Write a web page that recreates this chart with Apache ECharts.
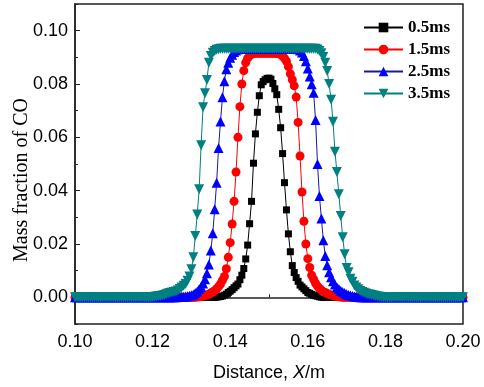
<!DOCTYPE html>
<html>
<head>
<meta charset="utf-8">
<script src="https://cdn.jsdelivr.net/npm/echarts@6/dist/echarts.min.js"></script>
<style>
  html, body { margin: 0; padding: 0; background: #fff; }
  #main { width: 484px; height: 387px; }
</style>
</head>
<body>
<div id="main"></div>
<script>
// sampling grid of the profiles (m)
const xStart = 0.1
const xStep = 0.0005

const seriesNames = ['0.5ms', '1.5ms', '2.5ms', '3.5ms']

// CO mass fraction at each grid point, 0.100 -> 0.200 m
const co05 = [
  0,0,0,0,0,0,0,0,0,0,
  0,0,0,0,0,0,0,0,0,0,
  0,0,0,0,0,0,0,0,0,0,
  0,0,0,0,0,0,0,0,0,0,
  0,0,0,0,0,0,0,0,0,0,
  0,0,0,0,0,0,0,0,0,0,
  0,0,0,0,0,0,0,0,0,0,
  0,0,0,0.0001,0.0002,0.0003,0.0005,0.0008,0.0012,0.0018,
  0.0023,0.0029,0.0036,0.0043,0.0050,0.0066,0.0083,0.0108,0.0144,0.0196,
  0.0276,0.0360,0.0503,0.0613,0.0694,0.0756,0.0797,0.0809,0.0816,0.0821,
  0.0822,0.0818,0.0802,0.0782,0.0760,0.0705,0.0636,0.0539,0.0430,0.0328,
  0.0238,0.0171,0.0119,0.0093,0.0074,0.0060,0.0046,0.0039,0.0032,0.0025,
  0.0018,0.0015,0.0011,0.0008,0.0006,0.0004,0.0002,0.0001,0,0,
  0,0,0,0,0,0,0,0,0,0,
  0,0,0,0,0,0,0,0,0,0,
  0,0,0,0,0,0,0,0,0,0,
  0,0,0,0,0,0,0,0,0,0,
  0,0,0,0,0,0,0,0,0,0,
  0,0,0,0,0,0,0,0,0,0,
  0,0,0,0,0,0,0,0,0,0,
  0
]
const co15 = [
  0,0,0,0,0,0,0,0,0,0,
  0,0,0,0,0,0,0,0,0,0,
  0,0,0,0,0,0,0,0,0,0,
  0,0,0,0,0,0,0,0,0,0,
  0,0,0,0,0,0,0,0,0,0,
  0,0,0,0,0,0,0,0,0,0,
  0,0,0,0.0001,0.0002,0.0003,0.0005,0.0007,0.0009,0.0012,
  0.0016,0.0020,0.0025,0.0032,0.0040,0.0050,0.0064,0.0078,0.0107,0.0150,
  0.0205,0.0275,0.0360,0.0470,0.0600,0.0715,0.0800,0.0850,0.0880,0.0897,
  0.0906,0.0911,0.0914,0.0915,0.0915,0.0915,0.0915,0.0915,0.0915,0.0915,
  0.0915,0.0915,0.0915,0.0915,0.0914,0.0913,0.0910,0.0905,0.0897,0.0885,
  0.0865,0.0838,0.0816,0.0793,0.0751,0.0656,0.0530,0.0395,0.0285,0.0200,
  0.0145,0.0112,0.0083,0.0068,0.0053,0.0042,0.0033,0.0027,0.0021,0.0018,
  0.0014,0.0011,0.0009,0.0007,0.0005,0.0003,0.0002,0.0001,0,0,
  0,0,0,0,0,0,0,0,0,0,
  0,0,0,0,0,0,0,0,0,0,
  0,0,0,0,0,0,0,0,0,0,
  0,0,0,0,0,0,0,0,0,0,
  0,0,0,0,0,0,0,0,0,0,
  0,0,0,0,0,0,0,0,0,0,
  0
]
const co25 = [
  0,0,0,0,0,0,0,0,0,0,
  0,0,0,0,0,0,0,0,0,0,
  0,0,0,0,0,0,0,0,0,0,
  0,0,0,0,0,0,0,0,0,0,
  0,0,0,0,0,0,0,0,0,0,
  0,0,0,0.0001,0.0001,0.0002,0.0002,0.0003,0.0004,0.0006,
  0.0008,0.0011,0.0016,0.0022,0.0031,0.0040,0.0052,0.0068,0.0090,0.0123,
  0.0176,0.0240,0.0330,0.0430,0.0560,0.0659,0.0750,0.0810,0.0855,0.0880,
  0.0898,0.0910,0.0920,0.0926,0.0930,0.0932,0.0932,0.0932,0.0932,0.0932,
  0.0932,0.0932,0.0932,0.0932,0.0932,0.0932,0.0932,0.0932,0.0932,0.0932,
  0.0932,0.0932,0.0932,0.0932,0.0932,0.0932,0.0932,0.0932,0.0932,0.0932,
  0.0932,0.0932,0.0932,0.0932,0.0932,0.0930,0.0926,0.0918,0.0905,0.0885,
  0.0858,0.0828,0.0799,0.0767,0.0665,0.0500,0.0380,0.0296,0.0214,0.0155,
  0.0120,0.0094,0.0075,0.0060,0.0048,0.0038,0.0031,0.0025,0.0020,0.0016,
  0.0012,0.0009,0.0007,0.0005,0.0003,0.0002,0.0001,0,0,0,
  0,0,0,0,0,0,0,0,0,0,
  0,0,0,0,0,0,0,0,0,0,
  0,0,0,0,0,0,0,0,0,0,
  0,0,0,0,0,0,0,0,0,0,
  0,0,0,0,0,0,0,0,0,0,
  0
]
const co35 = [
  0,0,0,0,0,0,0,0,0,0,
  0,0,0,0,0,0,0,0,0,0,
  0,0,0,0,0,0,0,0,0,0,
  0,0,0,0,0,0,0,0,0,0,
  0.0001,0.0002,0.0003,0.0004,0.0005,0.0007,0.0009,0.0012,0.0014,0.0016,
  0.0018,0.0020,0.0022,0.0026,0.0031,0.0037,0.0043,0.0050,0.0062,0.0078,
  0.0105,0.0150,0.0230,0.0311,0.0405,0.0570,0.0713,0.0765,0.0815,0.0880,
  0.0905,0.0917,0.0924,0.0928,0.0930,0.0932,0.0932,0.0932,0.0932,0.0932,
  0.0932,0.0932,0.0932,0.0932,0.0932,0.0932,0.0932,0.0932,0.0932,0.0932,
  0.0932,0.0932,0.0932,0.0932,0.0932,0.0932,0.0932,0.0932,0.0932,0.0932,
  0.0932,0.0932,0.0932,0.0932,0.0932,0.0932,0.0932,0.0932,0.0932,0.0932,
  0.0932,0.0932,0.0932,0.0932,0.0932,0.0932,0.0932,0.0932,0.0932,0.0932,
  0.0932,0.0932,0.0932,0.0932,0.0932,0.0929,0.0924,0.0915,0.0901,0.0880,
  0.0849,0.0800,0.0741,0.0658,0.0546,0.0470,0.0387,0.0305,0.0225,0.0162,
  0.0110,0.0094,0.0070,0.0058,0.0044,0.0037,0.0030,0.0024,0.0020,0.0017,
  0.0014,0.0012,0.0011,0.0009,0.0007,0.0005,0.0003,0.0002,0.0001,0,
  0,0,0,0,0,0,0,0,0,0,
  0,0,0,0,0,0,0,0,0,0,
  0,0,0,0,0,0,0,0,0,0,
  0,0,0,0,0,0,0,0,0,0,
  0
]

const xTickLabels = ['0.10', '0.12', '0.14', '0.16', '0.18', '0.20']
const yTickLabels = ['0.00', '0.02', '0.04', '0.06', '0.08', '0.10']

const toPoints = (vals) => vals.map((v, i) => [+(xStart + i * xStep).toFixed(4), v])

const sans = '"Liberation Sans", Arial, sans-serif'
const serif = '"Liberation Serif", "Times New Roman", serif'

const styles = [
  { symbol: 'rect', size: 7, rotate: 0, color: '#000000', line: '#000000' },
  { symbol: 'circle', size: 9, rotate: 0, color: '#ff0000', line: '#ff0000' },
  { symbol: 'triangle', size: 10, rotate: 0, color: '#0000ff', line: '#1a1a9a' },
  { symbol: 'triangle', size: 10, rotate: 180, color: '#008080', line: '#008080' }
]
const allValues = [co05, co15, co25, co35]

const chart = echarts.init(document.getElementById('main'))

const option = {
  animation: false,
  backgroundColor: '#fff',
  grid: {
    left: 75,
    right: 21,
    top: 4,
    bottom: 61,
    show: true,
    borderColor: '#222',
    borderWidth: 1.5
  },
  legend: {
    orient: 'vertical',
    left: 358,
    top: 14,
    itemWidth: 39,
    itemHeight: 12,
    itemGap: 5,
    data: seriesNames,
    textStyle: {
      fontFamily: serif,
      fontWeight: 'bold',
      fontSize: 17,
      lineHeight: 17,
      color: '#000'
    }
  },
  xAxis: {
    type: 'value',
    min: 0.1,
    max: 0.2,
    interval: 0.02,
    name: 'Distance, {i|X}/m',
    nameLocation: 'middle',
    nameGap: 40,
    nameTextStyle: {
      fontFamily: sans,
      fontSize: 18,
      color: '#000',
      rich: {
        i: { fontFamily: sans, fontSize: 18, fontStyle: 'italic', color: '#000' }
      }
    },
    axisLine: { lineStyle: { color: '#222', width: 1.5 } },
    axisTick: { inside: true, length: 5, lineStyle: { color: '#222' } },
    minorTick: { show: true, splitNumber: 2, length: 3, lineStyle: { color: '#222' } },
    splitLine: { show: false },
    axisLabel: {
      margin: 9,
      fontFamily: sans,
      fontSize: 18,
      color: '#000',
      formatter: (v) => {
        const s = v.toFixed(2)
        return xTickLabels.includes(s) ? s : ''
      }
    }
  },
  yAxis: [
    {
      type: 'value',
      min: -0.01,
      max: 0.11,
      interval: 0.01,
      axisLine: { lineStyle: { color: '#222', width: 1.5 } },
      axisTick: { inside: true, length: 3, lineStyle: { color: '#222' } },
      splitLine: { show: false },
      axisLabel: {
        margin: 7,
        fontFamily: sans,
        fontSize: 18,
        color: '#000',
        formatter: (v) => {
          const s = (Math.abs(v) < 1e-9 ? 0 : v).toFixed(2)
          return yTickLabels.includes(s) ? s : ''
        }
      }
    },
    {
      type: 'value',
      position: 'left',
      min: -0.01,
      max: 0.11,
      interval: 0.01,
      axisLine: { show: false },
      axisTick: {
        inside: true,
        length: 5,
        customValues: yTickLabels.map(Number),
        lineStyle: { color: '#222' }
      },
      splitLine: { show: false },
      axisLabel: { show: false }
    }
  ],
  graphic: [
    {
      type: 'text',
      x: 22,
      y: 180,
      rotation: Math.PI / 2,
      style: {
        text: 'Mass fraction of CO',
        fontFamily: serif,
        fontSize: 20,
        fill: '#000',
        align: 'center',
        verticalAlign: 'middle'
      }
    }
  ],
  series: seriesNames.map((name, k) => ({
    name: name,
    type: 'line',
    data: toPoints(allValues[k]),
    symbol: styles[k].symbol,
    symbolSize: styles[k].size,
    symbolRotate: styles[k].rotate,
    showSymbol: true,
    showAllSymbol: true,
    itemStyle: { color: styles[k].color },
    lineStyle: { color: styles[k].line, width: 1 }
  }))
}

chart.setOption(option)
</script>
</body>
</html>
